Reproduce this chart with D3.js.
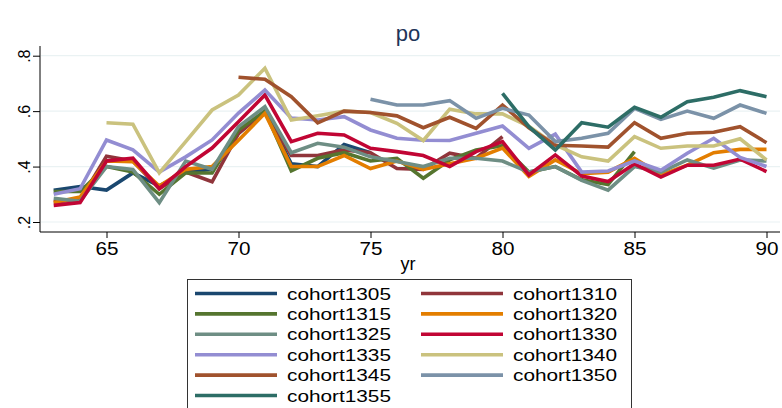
<!DOCTYPE html>
<html>
<head>
<meta charset="utf-8">
<script src="https://cdn.jsdelivr.net/npm/d3@7"></script>
<style>
  body { margin: 0; background: #fff; }
  text { font-family: "Liberation Sans", Arial, sans-serif; fill: #000; }
</style>
</head>
<body>
<svg width="782" height="408"></svg>
<script>
// cohort names, start years and values
var cohorts = ["cohort1305", "cohort1310", "cohort1315", "cohort1320", "cohort1325", "cohort1330",
               "cohort1335", "cohort1340", "cohort1345", "cohort1350", "cohort1355"];
var startYears = [63, 63, 63, 63, 63, 63, 63, 65, 70, 75, 80];
var colors = ["#1a476f", "#90353b", "#55752f", "#e37e00", "#6e8e84", "#c10534",
              "#938dd2", "#cac27e", "#a0522d", "#7b92a8", "#2d6d66"];

var c1305 = [.314,.328,.315,.377,.33,.38,.39,.52,.60,.41,.40,.48,.45];
var c1310 = [.273,.28,.437,.42,.32,.38,.345,.52,.60,.44,.44,.46,.45,.393,.39,.448,.43,.508];
var c1315 = [.31,.31,.40,.38,.30,.377,.377,.532,.60,.385,.43,.45,.42,.43,.358,.424,.46,.475,.38,.40,.352,.335,.454];
var c1320 = [.27,.29,.42,.418,.33,.39,.40,.495,.592,.40,.40,.44,.393,.42,.39,.41,.43,.467,.364,.424,.374,.38,.43,.37,.405,.45,.462,.462];
var c1325 = [.286,.275,.40,.39,.27,.42,.39,.544,.616,.45,.484,.47,.435,.418,.40,.43,.43,.42,.38,.40,.35,.315,.40,.38,.424,.394,.424,.42];
var c1330 = [.26,.27,.42,.43,.32,.40,.467,.562,.658,.49,.52,.514,.466,.454,.44,.40,.454,.49,.37,.442,.366,.346,.41,.362,.405,.405,.427,.382];
var c1335 = [.30,.32,.496,.46,.38,.435,.496,.593,.676,.575,.568,.58,.532,.502,.495,.494,.52,.546,.466,.517,.38,.384,.42,.387,.448,.502,.433,.40];
var c1340 = [.558,.553,.377,.49,.604,.658,.755,.568,.583,.60,.595,.556,.494,.607,.59,.59,.545,.478,.435,.42,.508,.466,.474,.474,.50,.424];
var c1345 = [.722,.715,.652,.558,.60,.595,.583,.54,.578,.538,.622,.54,.477,.474,.47,.558,.502,.52,.524,.544,.486];
var c1350 = [.643,.622,.622,.638,.574,.61,.586,.49,.502,.52,.61,.57,.60,.574,.622,.592];
var c1355 = [.664,.544,.46,.558,.542,.614,.578,.634,.65,.674,.652];

var values = [c1305, c1310, c1315, c1320, c1325, c1330, c1335, c1340, c1345, c1350, c1355];
var xTicks = [65, 70, 75, 80, 85, 90];
var yTicks = [.2, .4, .6, .8];

var svg = d3.select("svg");

var x = d3.scaleLinear().domain([65, 90]).range([106.5, 766.5]);
var y = d3.scaleLinear().domain([.2, .8]).range([222, 55.7]);

// title
svg.append("text")
  .attr("x", 408).attr("y", 41)
  .attr("text-anchor", "middle")
  .style("font-size", "22px")
  .style("fill", "#1e3559")
  .text("po");

// gridlines
svg.selectAll("line.grid")
  .data(yTicks)
  .enter()
  .append("line")
    .attr("class", "grid")
    .attr("x1", 41).attr("x2", 780)
    .attr("y1", function(d) {return y(d);})
    .attr("y2", function(d) {return y(d);})
    .style("stroke", "#eaf2f3")
    .style("stroke-width", 1.2);

// series lines
var line = d3.line()
  .x(function(d) {return x(d.yr);})
  .y(function(d) {return y(d.v);});

values.forEach(function(vals, i) {
  var pts = vals.map(function(v, j) {return {yr: startYears[i] + j, v: v};});
  svg.append("path")
    .datum(pts)
    .attr("d", line)
    .style("fill", "none")
    .style("stroke", colors[i])
    .style("stroke-width", 3.6)
    .style("stroke-linejoin", "miter");
});

// y axis
var yAxis = svg.append("g")
  .attr("transform", "translate(40,0)")
  .call(d3.axisLeft(y).tickValues(yTicks).tickSize(7)
    .tickFormat(function(d) {return d3.format(".1f")(d).replace(/^0/, "");}));
yAxis.select(".domain").attr("d", "M0,46V232").style("stroke", "#000");
yAxis.selectAll(".tick line").style("stroke", "#000");
yAxis.selectAll(".tick text")
  .attr("x", null).attr("dy", null)
  .attr("text-anchor", "middle")
  .attr("transform", "translate(-15,0) rotate(-90)")
  .attr("y", 5)
  .style("font-size", "16px")
  .style("font-family", "Liberation Sans, Arial, sans-serif")
  .style("fill", "#000");

// x axis
var xAxis = svg.append("g")
  .attr("transform", "translate(0,232)")
  .call(d3.axisBottom(x).tickValues(xTicks).tickSize(6).tickFormat(d3.format("d")));
xAxis.select(".domain").attr("d", "M40,0H780").style("stroke", "#000");
xAxis.selectAll(".tick line").style("stroke", "#000");
xAxis.selectAll(".tick text")
  .attr("y", 10)
  .attr("dy", "0.71em")
  .attr("textLength", 23)
  .attr("lengthAdjust", "spacingAndGlyphs")
  .style("font-size", "18px")
  .style("font-family", "Liberation Sans, Arial, sans-serif")
  .style("fill", "#000");

svg.append("text")
  .attr("x", 408).attr("y", 270)
  .attr("text-anchor", "middle")
  .style("font-size", "18px")
  .text("yr");

// legend
var legend = svg.append("g");
legend.append("rect")
  .attr("x", 187.5).attr("y", 279.5)
  .attr("width", 444).attr("height", 140)
  .style("fill", "#fff")
  .style("stroke", "#333")
  .style("stroke-width", 1);

cohorts.forEach(function(name, i) {
  var col = i % 2, row = Math.floor(i / 2);
  var lx = col == 0 ? 195 : 421;
  var ly = 293.5 + row * 20.4;
  legend.append("line")
    .attr("x1", lx).attr("x2", lx + 82)
    .attr("y1", ly).attr("y2", ly)
    .style("stroke", colors[i])
    .style("stroke-width", 3.6);
  legend.append("text")
    .attr("x", lx + 92).attr("y", ly + 6)
    .attr("textLength", 104)
    .attr("lengthAdjust", "spacingAndGlyphs")
    .style("font-size", "17px")
    .text(name);
});
</script>
</body>
</html>
